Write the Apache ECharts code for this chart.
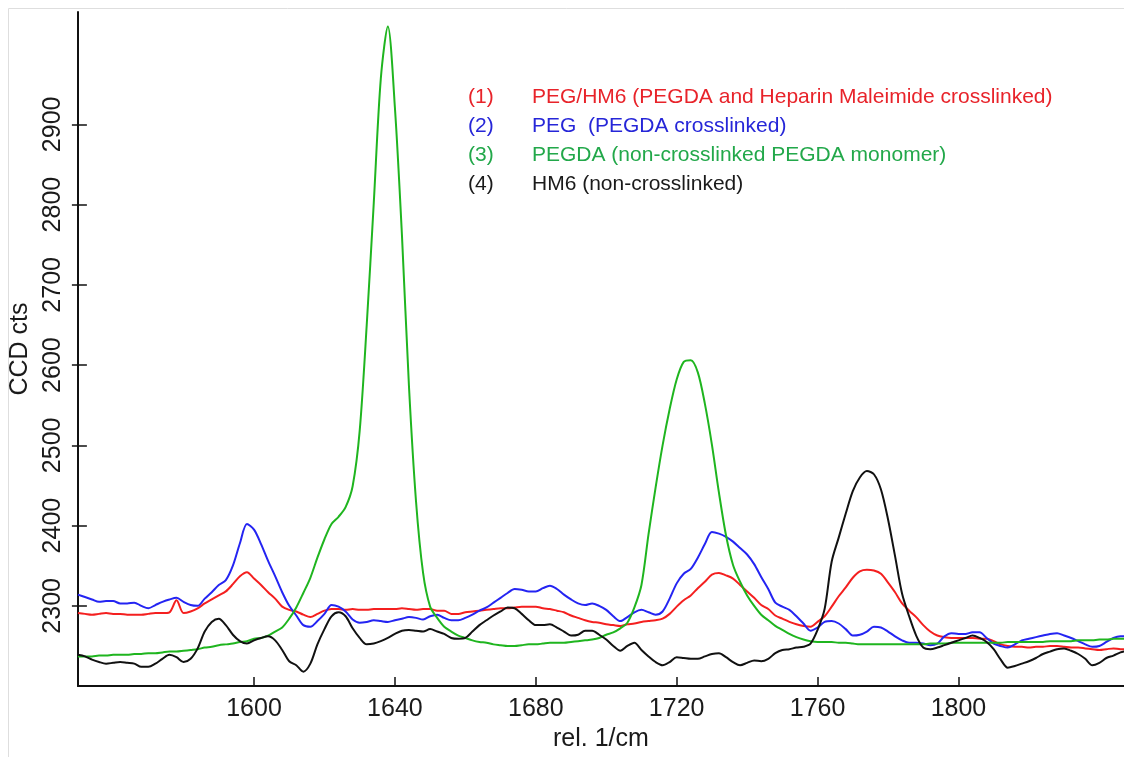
<!DOCTYPE html>
<html>
<head>
<meta charset="utf-8">
<script src="https://cdn.jsdelivr.net/npm/echarts@6/dist/echarts.min.js"></script>
<style>
html,body{margin:0;padding:0;background:#fff;}
#chart{width:1124px;height:757px;}
</style>
</head>
<body>
<div id="chart"></div>
<script>
// Raman shift (rel. 1/cm)
const wavenumbers = [
1550,1552,1554,1556,1558,1560,1562,1564,1566,1568,
1570,1572,1574,1576,1578,1580,1582,1584,1586,1588,
1590,1592,1594,1596,1598,1600,1602,1604,1606,1608,
1610,1612,1614,1616,1618,1620,1622,1624,1626,1628,
1630,1632,1634,1636,1638,1640,1642,1644,1646,1648,
1650,1652,1654,1656,1658,1660,1662,1664,1666,1668,
1670,1672,1674,1676,1678,1680,1682,1684,1686,1688,
1690,1692,1694,1696,1698,1700,1702,1704,1706,1708,
1710,1712,1714,1716,1718,1720,1722,1724,1726,1728,
1730,1732,1734,1736,1738,1740,1742,1744,1746,1748,
1750,1752,1754,1756,1758,1760,1762,1764,1766,1768,
1770,1772,1774,1776,1778,1780,1782,1784,1786,1788,
1790,1792,1794,1796,1798,1800,1802,1804,1806,1808,
1810,1812,1814,1816,1818,1820,1822,1824,1826,1828,
1830,1832,1834,1836,1838,1840,1842,1844,1846,1848
];

// (1) PEG/HM6
const pegHm6 = [
2291,2290,2289,2290,2291,2290,2290,2289,2289,2289,
2290,2291,2291,2292,2307,2291,2293,2297,2303,2308,
2313,2318,2327,2337,2342,2334,2326,2317,2309,2299,
2295,2293,2289,2286,2290,2294,2296,2296,2295,2296,
2295,2295,2296,2296,2296,2296,2297,2296,2295,2296,
2296,2294,2294,2290,2290,2292,2293,2294,2295,2296,
2297,2297,2298,2299,2299,2299,2297,2296,2294,2292,
2288,2285,2282,2280,2279,2277,2276,2275,2277,2278,
2280,2281,2282,2284,2290,2299,2307,2313,2322,2330,
2339,2341,2338,2334,2326,2318,2310,2301,2296,2288,
2284,2280,2277,2275,2274,2280,2287,2299,2312,2323,
2335,2343,2345,2344,2340,2329,2317,2303,2294,2286,
2276,2268,2263,2261,2260,2260,2260,2260,2259,2259,
2256,2252,2250,2249,2249,2248,2249,2249,2250,2250,
2249,2248,2248,2247,2246,2245,2246,2247,2246,2246
];

// (2) PEG
const peg = [
2314,2311,2308,2305,2306,2306,2303,2303,2304,2300,
2297,2301,2305,2308,2310,2305,2301,2300,2309,2317,
2326,2332,2350,2378,2402,2395,2377,2356,2337,2317,
2300,2288,2276,2274,2281,2290,2301,2299,2293,2283,
2279,2280,2282,2281,2280,2282,2284,2286,2285,2283,
2287,2289,2285,2282,2282,2285,2289,2294,2298,2304,
2310,2316,2321,2320,2318,2318,2322,2325,2321,2314,
2308,2303,2301,2303,2300,2295,2287,2281,2286,2292,
2295,2292,2289,2293,2309,2328,2340,2346,2360,2377,
2392,2390,2386,2380,2372,2364,2352,2336,2321,2304,
2299,2295,2287,2278,2269,2273,2280,2281,2278,2271,
2263,2264,2268,2274,2273,2268,2262,2257,2254,2254,
2253,2251,2253,2262,2266,2265,2265,2267,2267,2260,
2253,2250,2248,2252,2257,2259,2261,2263,2265,2266,
2263,2260,2256,2252,2249,2250,2255,2260,2262,2262
];

// (3) PEGDA
const pegda = [
2237,2237,2237,2238,2238,2239,2239,2239,2240,2240,
2241,2241,2242,2243,2243,2244,2245,2246,2248,2249,
2251,2252,2253,2255,2256,2259,2260,2263,2268,2273,
2284,2298,2316,2335,2360,2383,2402,2411,2423,2449,
2518,2650,2802,2957,3022,2921,2762,2573,2430,2341,
2299,2285,2274,2268,2263,2260,2257,2255,2254,2252,
2251,2250,2250,2251,2252,2252,2253,2254,2254,2254,
2255,2256,2257,2258,2260,2264,2267,2272,2279,2298,
2326,2389,2447,2500,2545,2582,2604,2606,2591,2552,
2501,2441,2388,2351,2330,2313,2300,2289,2282,2275,
2270,2265,2261,2258,2256,2255,2255,2255,2254,2254,
2253,2252,2252,2252,2252,2252,2252,2252,2252,2252,
2252,2253,2253,2253,2254,2254,2254,2254,2254,2254,
2254,2254,2255,2255,2255,2255,2255,2255,2256,2256,
2256,2256,2257,2257,2257,2258,2258,2259,2259,2259
];

// (4) HM6
const hm6 = [
2239,2237,2233,2230,2228,2229,2230,2229,2228,2224,
2224,2228,2234,2239,2236,2230,2234,2247,2268,2280,
2284,2276,2264,2256,2253,2257,2260,2262,2257,2245,
2231,2226,2218,2228,2252,2271,2287,2292,2287,2272,
2260,2252,2253,2256,2260,2265,2269,2270,2269,2268,
2271,2268,2265,2260,2259,2260,2268,2276,2282,2288,
2293,2298,2297,2290,2282,2276,2276,2277,2273,2268,
2263,2264,2269,2269,2264,2258,2250,2244,2250,2254,
2245,2237,2230,2226,2230,2236,2235,2234,2234,2237,
2240,2241,2236,2230,2226,2229,2232,2231,2234,2241,
2245,2246,2248,2249,2253,2270,2296,2355,2385,2415,
2443,2460,2468,2464,2445,2408,2362,2315,2287,2263,
2248,2246,2248,2251,2254,2257,2260,2263,2260,2255,
2246,2233,2223,2225,2228,2231,2235,2240,2243,2246,
2247,2244,2240,2234,2226,2229,2235,2238,2242,2244
];

const seriesNames = [
  'PEG/HM6 (PEGDA and Heparin Maleimide crosslinked)',
  'PEG  (PEGDA crosslinked)',
  'PEGDA (non-crosslinked PEGDA monomer)',
  'HM6 (non-crosslinked)'
];
const seriesTags = ['(1)', '(2)', '(3)', '(4)'];
const seriesValues = [pegHm6, peg, pegda, hm6];
const lineColors = ['#f41f1f', '#2424f2', '#1fb51f', '#111111'];
const legendColors = ['#e8232a', '#2626d8', '#22a84a', '#1a1a1a'];

const xTicks = [1600, 1640, 1680, 1720, 1760, 1800];
const yTicks = [2300, 2400, 2500, 2600, 2700, 2800, 2900];

const FONT = '"Liberation Sans", Arial, sans-serif';

const chart = echarts.init(document.getElementById('chart'), null, {renderer: 'canvas'});

const series = seriesValues.map((vals, i) => ({
  name: seriesNames[i],
  type: 'line',
  data: wavenumbers.map((w, j) => [w, vals[j]]),
  showSymbol: false,
  smooth: 0.3,
  lineStyle: {color: lineColors[i], width: 2},
  itemStyle: {color: lineColors[i]},
  animation: false,
  z: 2 + i
}));

const plain = v => String(v);

chart.setOption({
  backgroundColor: '#ffffff',
  animation: false,
  graphic: [{
    type: 'rect',
    silent: true,
    z: -10,
    shape: {x: 8.5, y: 8.5, width: 1300, height: 900},
    style: {fill: 'none', stroke: '#dedede', lineWidth: 1}
  }],
  grid: {left: 70, top: 12, right: 0, bottom: 56},
  legend: {
    orient: 'vertical',
    left: 458,
    top: 82,
    itemWidth: 0,
    itemHeight: 0,
    itemGap: 8,
    selectedMode: false,
    icon: 'rect',
    data: seriesNames.map((n, i) => ({name: n, textStyle: {color: legendColors[i]}})),
    formatter: function (name) {
      const idx = seriesNames.indexOf(name);
      return '{n|' + seriesTags[idx] + '}{t|' + name + '}';
    },
    textStyle: {
      fontFamily: FONT,
      fontSize: 21,
      rich: {
        n: {width: 64, fontSize: 21, fontFamily: FONT},
        t: {fontSize: 21, fontFamily: FONT}
      }
    }
  },
  xAxis: {
    type: 'value',
    min: 1550,
    max: 1847,
    name: 'rel. 1/cm',
    nameLocation: 'middle',
    nameGap: 31,
    nameTextStyle: {fontFamily: FONT, fontSize: 25, color: '#1a1a1a'},
    axisLine: {show: true, lineStyle: {color: '#111', width: 2}},
    axisTick: {show: true, inside: true, length: 9, customValues: xTicks, lineStyle: {color: '#111', width: 1.5}},
    axisLabel: {show: true, customValues: xTicks, formatter: plain, margin: 11, fontFamily: FONT, fontSize: 25, color: '#1a1a1a'},
    splitLine: {show: false}
  },
  yAxis: [{
    type: 'value',
    min: 2200,
    max: 3040,
    name: 'CCD cts',
    nameLocation: 'middle',
    nameGap: 37,
    nameTextStyle: {fontFamily: FONT, fontSize: 25, color: '#1a1a1a'},
    axisLine: {show: true, lineStyle: {color: '#111', width: 2}},
    axisTick: {show: true, inside: false, length: 6, customValues: yTicks, lineStyle: {color: '#111', width: 1.5}},
    axisLabel: {show: true, rotate: 90, customValues: yTicks, formatter: plain, margin: 12, fontFamily: FONT, fontSize: 25, color: '#1a1a1a'},
    splitLine: {show: false}
  }, {
    type: 'value',
    min: 2200,
    max: 3040,
    position: 'left',
    axisLine: {show: false},
    axisTick: {show: true, inside: true, length: 9, customValues: yTicks, lineStyle: {color: '#111', width: 1.5}},
    axisLabel: {show: false},
    splitLine: {show: false}
  }],
  series: series
});
</script>
</body>
</html>
